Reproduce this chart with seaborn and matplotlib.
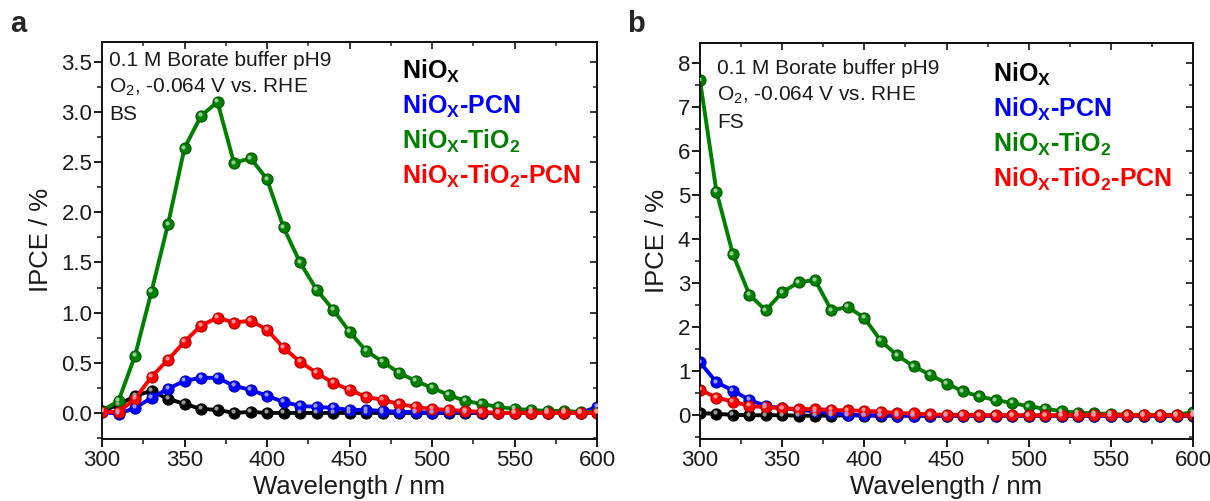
import numpy as np
import pandas as pd
import matplotlib
matplotlib.use("Agg")
import matplotlib.pyplot as plt
import seaborn as sns
from matplotlib.ticker import MultipleLocator, FormatStrFormatter
from matplotlib.transforms import offset_copy

# ---------------- data ----------------
wavelength = [300, 310, 320, 330, 340, 350, 360, 370, 380, 390, 400, 410, 420, 430, 440, 450,
              460, 470, 480, 490, 500, 510, 520, 530, 540, 550, 560, 570, 580, 590, 600]

series_names = ["NiOx", "NiOx-PCN", "NiOx-TiO2", "NiOx-TiO2-PCN"]
series_labels = [r"NiO$_{\mathbf{X}}$", r"NiO$_{\mathbf{X}}$-PCN",
                 r"NiO$_{\mathbf{X}}$-TiO$_{\mathbf{2}}$", r"NiO$_{\mathbf{X}}$-TiO$_{\mathbf{2}}$-PCN"]
series_colors = ["#000000", "#0000ff", "#008000", "#ff0000"]

# Panel a (BS)
bs_niox = [0.02, 0.08, 0.17, 0.22, 0.14, 0.09, 0.04, 0.03, 0.00, 0.01, 0.00, 0.00, 0.00, 0.00, 0.00, 0.00,
           0.00, 0.00, 0.00, 0.00, 0.00, 0.00, 0.00, 0.00, 0.00, 0.00, 0.00, 0.00, 0.00, 0.00, 0.00]
bs_niox_pcn = [0.01, -0.01, 0.05, 0.15, 0.24, 0.32, 0.35, 0.35, 0.27, 0.23, 0.17, 0.11, 0.07, 0.06, 0.05, 0.03,
               0.03, 0.02, 0.01, 0.01, 0.00, 0.01, 0.01, 0.00, 0.00, 0.00, 0.00, 0.00, 0.00, 0.00, 0.06]
bs_niox_tio2 = [0.02, 0.12, 0.57, 1.21, 1.88, 2.64, 2.96, 3.10, 2.49, 2.54, 2.33, 1.85, 1.50, 1.23, 1.03, 0.81,
                0.62, 0.51, 0.40, 0.32, 0.25, 0.18, 0.12, 0.09, 0.06, 0.04, 0.03, 0.02, 0.02, 0.01, 0.01]
bs_niox_tio2_pcn = [0.01, 0.01, 0.14, 0.36, 0.53, 0.71, 0.87, 0.95, 0.90, 0.92, 0.83, 0.65, 0.51, 0.40, 0.30, 0.23,
                    0.16, 0.13, 0.09, 0.06, 0.04, 0.03, 0.02, 0.01, 0.00, 0.00, 0.00, 0.00, 0.00, 0.00, 0.00]

# Panel b (FS)
fs_niox = [0.04, 0.02, 0.00, -0.01, -0.01, -0.01, -0.02, -0.02, -0.02, -0.01, -0.02, -0.02, -0.02, -0.02, -0.02, -0.02,
           -0.02, -0.02, -0.02, -0.02, -0.02, -0.02, -0.02, -0.02, -0.02, -0.02, -0.02, -0.02, -0.02, -0.02, -0.02]
fs_niox_pcn = [1.19, 0.74, 0.55, 0.34, 0.20, 0.15, 0.11, 0.08, 0.04, 0.00, -0.01, -0.01, -0.02, -0.02, -0.02, -0.02,
               -0.02, -0.02, -0.02, -0.02, -0.02, -0.02, -0.02, -0.02, -0.02, -0.02, -0.02, -0.02, -0.02, -0.02, -0.02]
fs_niox_tio2 = [7.60, 5.07, 3.65, 2.73, 2.37, 2.78, 3.01, 3.06, 2.37, 2.45, 2.20, 1.68, 1.35, 1.10, 0.91, 0.71,
                0.53, 0.42, 0.33, 0.27, 0.19, 0.14, 0.08, 0.05, 0.03, 0.02, 0.00, 0.00, 0.00, 0.00, 0.06]
fs_niox_tio2_pcn = [0.57, 0.39, 0.30, 0.20, 0.17, 0.15, 0.13, 0.13, 0.11, 0.10, 0.09, 0.07, 0.04, 0.03, 0.01, 0.00,
                    0.00, -0.01, -0.01, -0.01, -0.01, -0.01, -0.01, -0.01, -0.01, -0.01, -0.01, -0.01, -0.01, -0.01, -0.01]

panel_a_series = [bs_niox, bs_niox_pcn, bs_niox_tio2, bs_niox_tio2_pcn]
panel_b_series = [fs_niox, fs_niox_pcn, fs_niox_tio2, fs_niox_tio2_pcn]

note_lines_a = ["0.1 M Borate buffer pH9", r"O$_\mathregular{2}$, -0.064 V vs. RHE", "BS"]
note_lines_b = ["0.1 M Borate buffer pH9", r"O$_\mathregular{2}$, -0.064 V vs. RHE", "FS"]

# ---------------- style ----------------
sns.set_theme(style="ticks")
plt.rcParams["font.family"] = ["Liberation Sans", "DejaVu Sans"]
plt.rcParams["mathtext.fontset"] = "custom"
plt.rcParams["mathtext.rm"] = "Liberation Sans"
plt.rcParams["mathtext.bf"] = "Liberation Sans:bold"
plt.rcParams["mathtext.it"] = "Liberation Sans:italic"
plt.rcParams["axes.linewidth"] = 1.4

W, H = 1210, 501
fig = plt.figure(figsize=(W / 100, H / 100), dpi=100)
fig.patch.set_facecolor("white")
TXT = "#1a1a1a"


def px_axes(left, top, right, bottom):
    return fig.add_axes([left / W, 1 - bottom / H, (right - left) / W, (bottom - top) / H])


def make_long(series_list):
    frames = []
    for name, vals in zip(series_names, series_list):
        frames.append(pd.DataFrame({"wl": wavelength, "ipce": vals, "sample": name}))
    return pd.concat(frames, ignore_index=True)


def lighten(c, f=0.55):
    rgb = np.array(matplotlib.colors.to_rgb(c))
    return tuple(rgb + (1 - rgb) * f)


def draw_panel(ax, series_list, ylim, ymajor, yminor, yfmt):
    df = make_long(series_list)
    sns.lineplot(data=df, x="wl", y="ipce", hue="sample", hue_order=series_names,
                 palette=dict(zip(series_names, series_colors)), marker="o", markersize=8,
                 markeredgewidth=0.8, linewidth=2.8, legend=False, ax=ax, errorbar=None)
    for line, c in zip(ax.get_lines(), series_colors):
        line.set_markeredgecolor(tuple(np.array(matplotlib.colors.to_rgb(c)) * 0.7))
    # sphere highlight
    hl = offset_copy(ax.transData, fig=fig, x=-1.5, y=1.5, units="dots")
    for vals, c in zip(series_list, series_colors):
        ax.plot(wavelength, vals, linestyle="none", marker="o", markersize=3.0,
                markeredgewidth=0, color=lighten(c, 0.6), transform=hl, zorder=5)
    ax.set_xlim(300, 600)
    ax.set_ylim(*ylim)
    ax.xaxis.set_major_locator(MultipleLocator(50))
    ax.xaxis.set_minor_locator(MultipleLocator(25))
    ax.yaxis.set_major_locator(MultipleLocator(ymajor))
    ax.yaxis.set_minor_locator(MultipleLocator(yminor))
    ax.yaxis.set_major_formatter(FormatStrFormatter(yfmt))
    ax.tick_params(axis="both", which="major", direction="out", length=6, width=1.4,
                   labelsize=16, colors=TXT)
    ax.tick_params(axis="x", which="major", pad=2)
    ax.tick_params(axis="y", which="major", pad=1)
    ax.tick_params(axis="both", which="minor", direction="out", length=3.5, width=1.2)
    ax.set_xlabel("Wavelength / nm", fontsize=18.5, color=TXT, labelpad=3)
    ax.set_ylabel("IPCE / %", fontsize=18.5, color=TXT, labelpad=6)
    for s in ax.spines.values():
        s.set_visible(True)
        s.set_linewidth(1.4)
        s.set_color("#111111")
    top = ax.secondary_xaxis("top")
    top.xaxis.set_major_locator(MultipleLocator(50))
    top.xaxis.set_minor_locator(MultipleLocator(25))
    top.tick_params(which="major", direction="in", length=5, width=1.3, labeltop=False)
    top.tick_params(which="minor", direction="in", length=3, width=1.1)
    right = ax.secondary_yaxis("right")
    right.yaxis.set_major_locator(MultipleLocator(ymajor))
    right.yaxis.set_minor_locator(MultipleLocator(yminor))
    right.tick_params(which="major", direction="in", length=5, width=1.3, labelright=False)
    right.tick_params(which="minor", direction="in", length=3, width=1.1)
    ax.grid(False)


ax1 = px_axes(102, 41.7, 597, 439)
draw_panel(ax1, panel_a_series, (-0.26, 3.70), 0.5, 0.25, "%.1f")
ax2 = px_axes(700, 42.7, 1193, 439)
draw_panel(ax2, panel_b_series, (-0.55, 8.45), 1, 0.5, "%d")


def ftext(x, y, s, **kw):
    fig.text(x / W, 1 - y / H, s, **kw)


# notes
for i, line in enumerate(note_lines_a):
    ftext(109, 60 + i * 27, line, fontsize=15, va="center", ha="left", color=TXT)
for i, line in enumerate(note_lines_b):
    ftext(717, 68 + i * 27, line, fontsize=15, va="center", ha="left", color=TXT)

# legend text
plt.rcParams["mathtext.default"] = "bf"
for i, (lab, c) in enumerate(zip(series_labels, series_colors)):
    ftext(402, 71 + i * 35, lab, fontsize=18, fontweight="bold", color=c, va="center", ha="left")
    ftext(993, 74 + i * 35, lab, fontsize=18, fontweight="bold", color=c, va="center", ha="left")

# panel letters
ftext(10, 24, "a", fontsize=21, fontweight="bold", va="center", ha="left")
ftext(627, 24, "b", fontsize=21, fontweight="bold", va="center", ha="left")

fig.savefig("out.png", dpi=100, facecolor="white")
